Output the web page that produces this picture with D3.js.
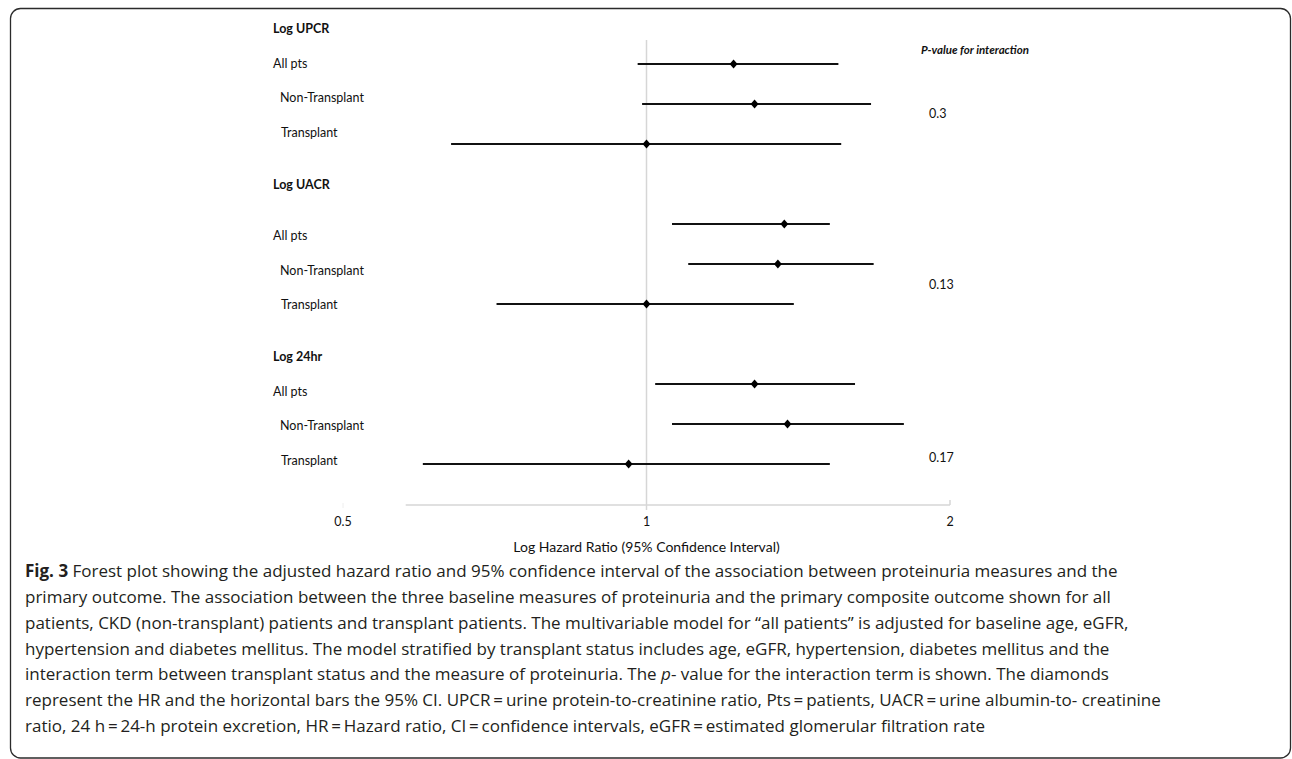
<!DOCTYPE html>
<html><head><meta charset="utf-8">
<script src="https://cdn.jsdelivr.net/npm/d3@7"></script>
<style>body{margin:0;background:#fff;} svg{display:block}</style>
</head><body><svg id="c" width="1292" height="759"></svg>
<script>
// ---------- data ----------
const groups = ["Log UPCR", "Log UACR", "Log 24hr"];
const subgroups = ["All pts", "Non-Transplant", "Transplant"];
const hrUPCR = [1.22, 1.28, 1.00];
const loUPCR = [0.98, 0.99, 0.64];
const hiUPCR = [1.55, 1.67, 1.56];
const hrUACR = [1.37, 1.35, 1.00];
const loUACR = [1.06, 1.10, 0.71];
const hiUACR = [1.52, 1.68, 1.40];
const hr24 = [1.28, 1.38, 0.96];
const lo24 = [1.02, 1.06, 0.60];
const hi24 = [1.61, 1.80, 1.52];
const pValues = ["0.3", "0.13", "0.17"];
const tickValues = [0.5, 1, 2];
const axisStartValue = 0.577;
const pHeader = "P-value for interaction";
const axisTitle = "Log Hazard Ratio (95% Confidence Interval)";
const captionLines = [
  [["Fig. 3", "b"], [" Forest plot showing the adjusted hazard ratio and 95% confidence interval of the association between proteinuria measures and the", ""]],
  [["primary outcome. The association between the three baseline measures of proteinuria and the primary composite outcome shown for all", ""]],
  [["patients, CKD (non-transplant) patients and transplant patients. The multivariable model for \u201call patients\u201d is adjusted for baseline age, eGFR,", ""]],
  [["hypertension and diabetes mellitus. The model stratified by transplant status includes age, eGFR, hypertension, diabetes mellitus and the", ""]],
  [["interaction term between transplant status and the measure of proteinuria. The ", ""], ["p", "i"], ["- value for the interaction term is shown. The diamonds", ""]],
  [["represent the HR and the horizontal bars the 95% CI. UPCR\u2009=\u2009urine protein-to-creatinine ratio, Pts\u2009=\u2009patients, UACR\u2009=\u2009urine albumin-to- creatinine", ""]],
  [["ratio, 24 h\u2009=\u200924-h protein excretion, HR\u2009=\u2009Hazard ratio, CI\u2009=\u2009confidence intervals, eGFR\u2009=\u2009estimated glomerular filtration rate", ""]]
];

const hrAll = [hrUPCR, hrUACR, hr24], loAll = [loUPCR, loUACR, lo24], hiAll = [hiUPCR, hiUACR, hi24];
const rows = [];
groups.forEach((g, gi) => subgroups.forEach((s, si) => rows.push({g: gi, s: si, label: s, hr: hrAll[gi][si], lo: loAll[gi][si], hi: hiAll[gi][si]})));

// ---------- layout ----------
const svg = d3.select("#c");
const W = 1292, H = 759;
const font = "Lato, 'Open Sans', sans-serif";
const x = d3.scaleLog().domain([0.5, 2]).range([343, 950]);
const yLine = d3.scaleLinear().domain([0, 1]).range([64, 104]);
const lineIndex = (r) => r.g * 4 + r.s;
const yLab = d3.scaleLinear().domain([0, 1]).range([29, 63.5]);
const headerIdx = [0, 4.5, 9.5];
const subIdx = [[1, 2, 3], [6, 7, 8], [10.5, 11.5, 12.5]];
const pIdx = [2.45, 7.42, 12.43];
const labelX = 273, subIndent = [0, 7, 8];

// frame
svg.append("rect").attr("x", 10.5).attr("y", 8.5).attr("width", W - 12).attr("height", H - 9.5)
  .attr("rx", 10).attr("fill", "none").attr("stroke", "#2b2b2b").attr("stroke-width", 1.3);

// gridline at 1
svg.append("line").attr("x1", x(1)).attr("x2", x(1)).attr("y1", 40).attr("y2", 510)
  .attr("stroke", "#d6d6d6").attr("stroke-width", 1.5);

// axis line
const axisY = 505;
svg.append("line").attr("x1", x(axisStartValue)).attr("x2", x(2)).attr("y1", axisY).attr("y2", axisY)
  .attr("stroke", "#d6d6d6").attr("stroke-width", 1.5);
svg.append("line").attr("x1", x(2)).attr("x2", x(2)).attr("y1", axisY - 5).attr("y2", axisY)
  .attr("stroke", "#d6d6d6").attr("stroke-width", 1.5);
svg.append("line").attr("x1", x(0.5)).attr("x2", x(0.5)).attr("y1", axisY - 2).attr("y2", axisY + 3)
  .attr("stroke", "#eeeeee").attr("stroke-width", 1);

// tick labels
svg.selectAll("text.tick").data(tickValues).join("text").attr("class", "tick")
  .attr("x", d => x(d)).attr("y", 522).attr("dy", "0.35em").attr("text-anchor", "middle")
  .attr("font-family", font).attr("font-size", 12.5).attr("fill", "#111").text(d => d);

svg.append("text").attr("x", x(1)).attr("y", 547).attr("dy", "0.35em").attr("text-anchor", "middle")
  .attr("font-family", font).attr("font-size", 14).attr("fill", "#111").text(axisTitle);

// CI lines
svg.selectAll("line.ci").data(rows).join("line").attr("class", "ci")
  .attr("x1", d => x(d.lo)).attr("x2", d => x(d.hi))
  .attr("y1", d => yLine(lineIndex(d))).attr("y2", d => yLine(lineIndex(d)))
  .attr("stroke", "#111").attr("stroke-width", 2);

// diamonds
const diamond = { draw(ctx, size) { const h = Math.sqrt(size) * 0.75, w = h * 0.85; ctx.moveTo(0, -h); ctx.lineTo(w, 0); ctx.lineTo(0, h); ctx.lineTo(-w, 0); ctx.closePath(); } };
svg.selectAll("path.pt").data(rows).join("path").attr("class", "pt")
  .attr("d", d3.symbol(diamond, 38))
  .attr("transform", d => `translate(${x(d.hr)},${yLine(lineIndex(d))})`)
  .attr("fill", "#000");

// group headers
svg.selectAll("text.hdr").data(groups).join("text").attr("class", "hdr")
  .attr("x", labelX).attr("y", (d, i) => yLab(headerIdx[i])).attr("dy", "0.35em")
  .attr("font-family", font).attr("font-weight", 700).attr("font-size", 12.5).attr("fill", "#111").text(d => d);

// subgroup labels
svg.selectAll("text.sub").data(rows).join("text").attr("class", "sub")
  .attr("x", d => labelX + subIndent[d.s]).attr("y", d => yLab(subIdx[d.g][d.s])).attr("dy", "0.35em")
  .attr("font-family", font).attr("font-size", 12.5).attr("fill", "#111").text(d => d.label);

// p-values
svg.append("text").attr("x", 1029).attr("y", 50).attr("dy", "0.35em").attr("text-anchor", "end")
  .attr("font-family", font).attr("font-weight", 700).attr("font-style", "italic").attr("font-size", 11.5)
  .attr("fill", "#111").text(pHeader);
svg.selectAll("text.pv").data(pValues).join("text").attr("class", "pv")
  .attr("x", 929).attr("y", (d, i) => yLab(pIdx[i])).attr("dy", "0.35em")
  .attr("font-family", font).attr("font-size", 12.5).attr("fill", "#111").text(d => d);

// caption
const capFont = "'Open Sans', 'Noto Sans', sans-serif";
const capX = 25;
const capY = d3.scaleLinear().domain([0, 1]).range([571, 596.8]);
const cap = svg.append("g");
captionLines.forEach((parts, i) => {
  const t = cap.append("text").attr("x", capX).attr("y", capY(i)).attr("dy", "0.36em")
    .attr("font-family", capFont).attr("font-size", 17).attr("fill", "#231f20");
  parts.forEach(([s, st]) => {
    const ts = t.append("tspan").text(s);
    if (st === "b") ts.attr("font-weight", 700);
    if (st === "i") ts.attr("font-style", "italic");
  });
});
</script></body></html>
